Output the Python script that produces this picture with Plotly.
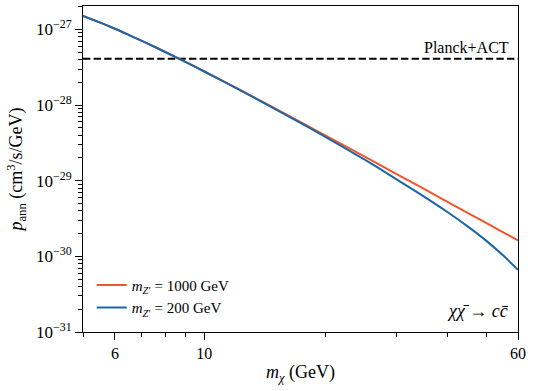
import math
import plotly.graph_objects as go

# Data (m_chi in GeV, p_ann in cm^3/s/GeV, as log10 values)
m_chi = [5, 5.5, 6, 6.5, 7, 8, 9, 10, 12, 14, 16, 18, 20, 25, 30, 35, 40, 45, 50, 55, 60]
log_p_1000 = [-26.820, -26.907, -26.991, -27.073, -27.151, -27.298, -27.433, -27.556,
              -27.774, -27.961, -28.126, -28.272, -28.403, -28.682, -28.912, -29.106,
              -29.275, -29.424, -29.557, -29.678, -29.788]
log_p_200 = [-26.820, -26.907, -26.991, -27.073, -27.151, -27.298, -27.433, -27.556,
             -27.777, -27.967, -28.136, -28.286, -28.423, -28.722, -28.982, -29.206,
             -29.410, -29.604, -29.792, -29.983, -30.178]
p_1000 = [10 ** v for v in log_p_1000]
p_200 = [10 ** v for v in log_p_200]
planck_limit = 4.1e-28
x_span = [5, 60]

x_ticks = [6, 10, 60]
x_ticklabels = ["6", "10", "60"]
x_minor = [5, 7, 8, 9, 20, 30, 40, 50]
y_exps = [-31, -30, -29, -28, -27]

FONT = "Liberation Serif"
ORANGE = "#F2552C"
BLUE = "#1A67A8"

fig = go.Figure()
fig.add_trace(go.Scatter(x=x_span, y=[planck_limit, planck_limit], mode="lines",
                         line=dict(color="black", width=2, dash="7.4px,3.2px"),
                         showlegend=False, hoverinfo="skip"))
fig.add_trace(go.Scatter(x=m_chi, y=p_1000, mode="lines",
                         line=dict(color=ORANGE, width=2, shape="spline"),
                         name="<i>m</i><sub><i>Z</i>′</sub> = 1000 GeV"))
fig.add_trace(go.Scatter(x=m_chi, y=p_200, mode="lines",
                         line=dict(color=BLUE, width=2, shape="spline"),
                         name="<i>m</i><sub><i>Z</i>′</sub> = 200 GeV"))

y_minor = [m * 10 ** e for e in range(-31, -26) for m in range(2, 10)]
y_minor = [v for v in y_minor if v < 2.05e-27]

fig.update_xaxes(type="log", range=[0.69897, 1.77815],
                 tickvals=x_ticks, ticktext=x_ticklabels,
                 ticks="outside", ticklen=7, tickwidth=1, tickcolor="black",
                 minor=dict(tickvals=x_minor, ticks="outside", ticklen=4,
                            tickwidth=1, tickcolor="black", showgrid=False),
                 showline=True, linecolor="black", linewidth=1, mirror=True,
                 showgrid=False, zeroline=False,
                 tickfont=dict(family=FONT, size=16, color="black"),
                 title=dict(text="<i>m</i><sub><i>χ</i></sub> (GeV)",
                            font=dict(family=FONT, size=18, color="black"),
                            standoff=4))
fig.update_yaxes(type="log", range=[-31, -26.69],
                 tickvals=[10 ** e for e in y_exps],
                 ticktext=["10<sup>−%d</sup>" % (-e) for e in y_exps],
                 ticks="outside", ticklen=7, tickwidth=1, tickcolor="black",
                 minor=dict(tickvals=y_minor, ticks="outside", ticklen=4,
                            tickwidth=1, tickcolor="black", showgrid=False),
                 showline=True, linecolor="black", linewidth=1, mirror=True,
                 showgrid=False, zeroline=False,
                 tickfont=dict(family=FONT, size=17, color="black"),
                 title=dict(text="<i>p</i><sub>ann</sub> (cm<sup>3</sup>/s/GeV)",
                            font=dict(family=FONT, size=18, color="black"),
                            standoff=8))

fig.add_annotation(x=1, xref="paper", y=math.log10(planck_limit), yref="y",
                   text="Planck+ACT", showarrow=False, xanchor="right", yanchor="bottom",
                   xshift=-7, yshift=1,
                   font=dict(family=FONT, size=16, color="black"))
fig.add_annotation(x=1, xref="paper", y=0, yref="paper",
                   text="<i>χχ̄</i> → <i>cc̄</i>", showarrow=False,
                   xanchor="right", yanchor="bottom", xshift=-7, yshift=9,
                   font=dict(family=FONT, size=18, color="black"))

fig.update_layout(width=534, height=391,
                  margin=dict(l=83, r=16, t=6, b=59),
                  paper_bgcolor="white", plot_bgcolor="white",
                  font=dict(family=FONT, color="black"),
                  legend=dict(x=0.02, y=0.025, xanchor="left", yanchor="bottom",
                              bgcolor="rgba(0,0,0,0)", borderwidth=0,
                              font=dict(family=FONT, size=15, color="black"),
                              itemwidth=30, tracegroupgap=0))

fig.write_html("out.html", config={"displayModeBar": False},
               post_script="document.body.style.margin='0';document.body.style.overflow='hidden';")
